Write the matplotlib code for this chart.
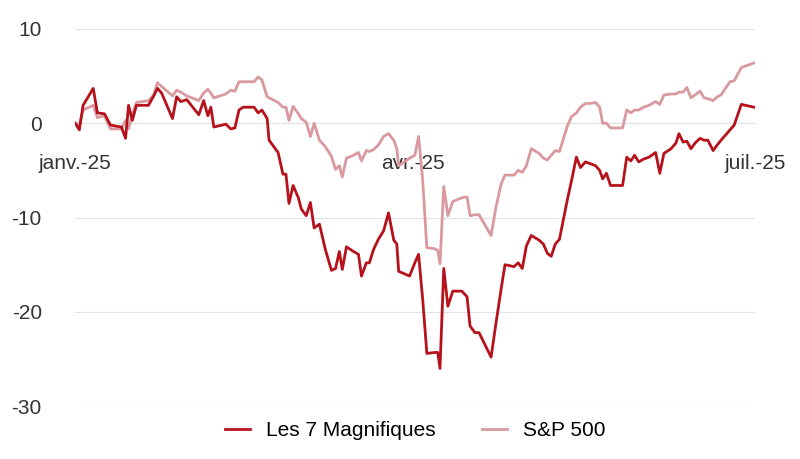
import matplotlib
matplotlib.use("Agg")
import matplotlib.pyplot as plt
import pandas as pd

plt.rcParams['font.family'] = ['Liberation Sans', 'DejaVu Sans']
plt.rcParams['axes.unicode_minus'] = False

# days since 2025-01-01
days = [
    0, 1.1, 2.1, 4.8, 5.9, 7.8, 9.4, 12.3, 13.4, 14.2,
    15.2, 16.3, 19.5, 20.9, 21.9, 23.0, 25.9, 27.0, 28.1, 29.7,
    32.9, 34.2, 35.3, 36.1, 36.9, 40.1, 41.4, 42.5, 43.6, 44.7,
    47.6, 48.7, 49.7, 51.1, 51.6, 54.0, 55.3, 56.1, 56.9, 58.0,
    59.4, 60.2, 61.5, 62.6, 63.6, 65.0, 66.6, 68.2, 69.3, 70.3,
    71.1, 72.2, 74.1, 75.4, 76.2, 77.5, 78.3, 79.4, 80.7, 82.1,
    83.4, 84.8, 85.6, 86.1, 89.0, 90.4, 91.4, 92.5, 93.6, 95.7,
    96.5, 97.1, 98.1, 99.2, 100.5, 102.9, 104.3, 105.1, 106.4, 107.5,
    110.7, 112.0, 113.4, 114.4, 116.8, 117.9, 119.0, 120.1, 121.4, 123.5,
    124.6, 125.7, 126.7, 127.8, 128.9, 131.0, 132.1, 133.4, 134.5, 135.8,
    137.2, 138.5, 139.6, 140.4, 141.4, 142.5, 145.7, 146.8, 147.9, 148.9,
    150.0, 151.3, 152.7, 154.5, 155.6, 156.7, 158.6, 159.9, 160.7, 161.8,
    162.8, 163.9, 165.0, 166.3, 167.4, 168.4, 169.8, 170.9, 171.9, 174.3,
    175.4, 177.3, 180.7,
]

mag7 = [
    0, -0.7, 1.9, 3.7, 1.1, 1.0, -0.2, -0.4, -1.6, 1.9,
    0.3, 1.9, 1.9, 2.9, 3.7, 3.2, 0.5, 2.8, 2.3, 2.5,
    0.9, 2.4, 0.8, 1.7, -0.4, -0.1, -0.6, -0.5, 1.4, 1.7,
    1.7, 1.1, 1.4, 0.5, -1.8, -3.1, -5.4, -5.4, -8.5, -6.6,
    -7.9, -9.1, -9.8, -8.4, -11.1, -10.7, -13.4, -15.6, -15.4, -13.6,
    -15.5, -13.1, -13.6, -13.9, -16.2, -14.8, -14.8, -13.4, -12.3, -11.4,
    -9.5, -12.4, -12.8, -15.7, -16.2, -14.8, -13.9, -18.7, -24.4, -24.3,
    -24.3, -26.0, -15.4, -19.4, -17.8, -17.8, -18.4, -21.5, -22.2, -22.2,
    -24.8, -21.2, -17.5, -15.0, -15.2, -14.8, -15.4, -13.0, -11.9, -12.4,
    -12.8, -13.8, -14.1, -12.8, -12.3, -8.1, -6.1, -3.6, -4.7, -4.1,
    -4.3, -4.5, -5.0, -5.9, -5.3, -6.6, -6.6, -3.6, -4.0, -3.4,
    -4.1, -3.8, -3.6, -3.1, -5.3, -3.2, -2.7, -2.1, -1.1, -2.0,
    -1.9, -2.7, -2.1, -1.6, -1.8, -1.8, -2.9, -2.3, -1.8, -0.7,
    -0.2, 2.0, 1.7,
]

sp500 = [
    0, -0.2, 1.4, 1.9, 0.6, 0.8, -0.6, -0.6, 0.3, -0.6,
    1.0, 2.2, 2.4, 3.0, 4.3, 3.9, 2.9, 3.5, 3.3, 2.9,
    2.4, 3.2, 3.6, 3.2, 2.7, 3.1, 3.5, 3.4, 4.4, 4.4,
    4.4, 4.9, 4.6, 2.8, 2.7, 2.2, 1.7, 1.7, 0.3, 1.8,
    1.0, 0.5, 0.1, -1.4, 0.0, -1.8, -2.5, -3.5, -4.9, -4.5,
    -5.7, -3.7, -3.4, -3.1, -4.0, -2.9, -3.0, -2.8, -2.3, -1.4,
    -1.1, -1.8, -2.7, -4.5, -3.7, -3.4, -1.4, -6.1, -13.2, -13.3,
    -13.5, -14.9, -6.7, -9.8, -8.3, -7.9, -7.8, -9.8, -9.7, -9.7,
    -11.9, -8.9, -6.4, -5.5, -5.5, -5.0, -5.2, -4.5, -2.7, -3.2,
    -3.7, -3.9, -3.4, -2.9, -3.0, -0.3, 0.7, 1.1, 1.7, 2.1,
    2.1, 2.2, 1.7, 0.0, 0.0, -0.5, -0.5, 1.4, 1.1, 1.4,
    1.4, 1.7, 1.9, 2.3, 2.0, 3.0, 3.1, 3.1, 3.3, 3.3,
    3.8, 2.7, 3.0, 3.4, 2.7, 2.6, 2.4, 2.8, 3.0, 4.4,
    4.5, 5.9, 6.4,
]

tick_dates = ["2025-01-01", "2025-04-01", "2025-07-01"]
tick_labels = ["janv.-25", "avr.-25", "juil.-25"]
y_ticks = [10, 0, -10, -20, -30]

dates = pd.Timestamp("2025-01-01") + pd.to_timedelta(days, unit="D")

fig = plt.figure(figsize=(8, 4.59), dpi=100)
ax = fig.add_axes([0.094, 0.115, 0.85, 0.822])

ax.plot(dates, mag7, color="#b5121b", lw=2, label="Les 7 Magnifiques", zorder=3)
ax.plot(dates, sp500, color="#d9999f", lw=2, label="S&P 500", zorder=2)

ax.set_ylim(-30, 10)
ax.set_xlim(pd.Timestamp(tick_dates[0]), pd.Timestamp(tick_dates[-1]))
ax.set_yticks(y_ticks)
ax.grid(axis="y", color="#e3e3e3", lw=0.8)
ax.set_axisbelow(True)

for s in ["top", "right", "left"]:
    ax.spines[s].set_visible(False)
ax.spines["bottom"].set_position(("data", 0))
ax.spines["bottom"].set_color("#e3e3e3")
ax.spines["bottom"].set_zorder(1)

ax.set_xticks(pd.to_datetime(tick_dates))
ax.set_xticklabels(tick_labels)
ax.tick_params(axis="x", length=0, labelsize=15, colors="#333333", pad=22)
ax.tick_params(axis="y", length=0, labelsize=15, colors="#333333", pad=24)

ax.legend(loc="upper center", bbox_to_anchor=(0.5, 0.01), ncol=2, frameon=False,
          fontsize=15, handlelength=1.2, columnspacing=2.2)

fig.savefig("out.png", dpi=100)
